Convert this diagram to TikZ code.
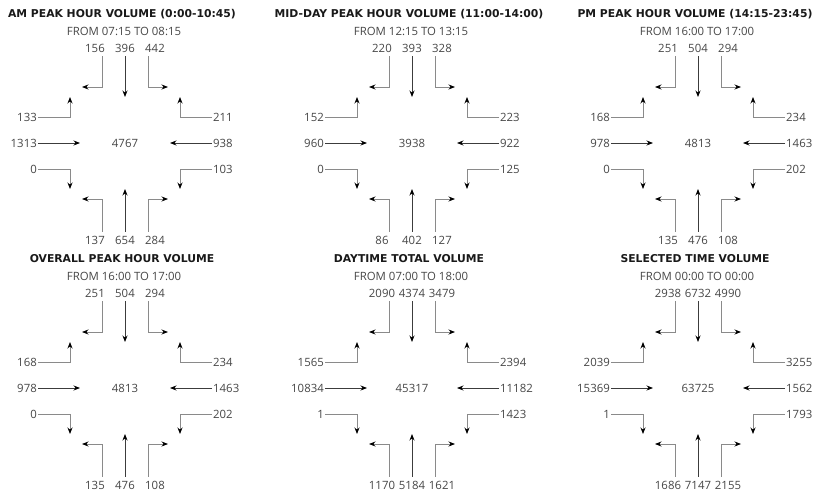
\documentclass[tikz,border=0pt]{standalone}
\usepackage{fontspec}
\setmainfont{Open Sans}
\newfontfamily\headfont{DejaVu Sans}
\definecolor{CountGrey}{HTML}{474747}
\definecolor{LaneGrey}{HTML}{8A8A8A}
\definecolor{ThruGrey}{HTML}{3C3C3C}
\usetikzlibrary{arrows.meta, positioning}

% #1 name, #2 centre, #3 title, #4 period, #5 total,
% #6 north L/T/R, #7 west U/T/D, #8 east U/T/D, #9 south L/T/R
\newcommand{\junction}[9]{%
  \begin{scope}[shift={(#2)}]
    \node[heading] (#1-title) at (-3,-129) {#3};
    \node[period] (#1-period) at (-1,-112) {#4};
    \node[count] (#1-total) at (0,0) {#5};
    \coordinate (#1-nlt) at (-43,-56); \coordinate (#1-ntt) at (0,-46); \coordinate (#1-nrt) at (43,-56);
    \coordinate (#1-wut) at (-55,-46); \coordinate (#1-wtt) at (-45,0); \coordinate (#1-wdt) at (-55,46);
    \coordinate (#1-eut) at (55,-46); \coordinate (#1-ett) at (45,0); \coordinate (#1-edt) at (55,46);
    \coordinate (#1-slt) at (-43,56); \coordinate (#1-stt) at (0,46); \coordinate (#1-srt) at (43,56);
    % north approach
    \foreach \l/\t/\r in {#6} {
      \node[count] (#1-nl) at (-30,-95) {\l};
      \node[count] (#1-nt) at (0,-95) {\t};
      \node[count] (#1-nr) at (30,-95) {\r};
      \draw[lane] ([xshift=7pt]#1-nl.south) |- (#1-nlt);
      \draw[thru] (#1-nt.south) -- (#1-ntt);
      \draw[lane] ([xshift=-7pt]#1-nr.south) |- (#1-nrt);
    }
    % west approach
    \foreach \u/\t/\d in {#7} {
      \node[count, anchor=east] (#1-wu) at (-87,-26) {\u};
      \node[count, anchor=east] (#1-wt) at (-87,0) {\t};
      \node[count, anchor=east] (#1-wd) at (-87,26) {\d};
      \draw[lane] (#1-wu.east) -| (#1-wut);
      \draw[thru] (#1-wt.east) -- (#1-wtt);
      \draw[lane] (#1-wd.east) -| (#1-wdt);
    }
    % east approach
    \foreach \u/\t/\d in {#8} {
      \node[count, anchor=west] (#1-eu) at (87,-26) {\u};
      \node[count, anchor=west] (#1-et) at (87,0) {\t};
      \node[count, anchor=west] (#1-ed) at (87,26) {\d};
      \draw[lane] (#1-eu.west) -| (#1-eut);
      \draw[thru] (#1-et.west) -- (#1-ett);
      \draw[lane] (#1-ed.west) -| (#1-edt);
    }
    % south approach
    \foreach \l/\t/\r in {#9} {
      \node[count] (#1-sl) at (-30,97) {\l};
      \node[count] (#1-st) at (0,97) {\t};
      \node[count] (#1-sr) at (30,97) {\r};
      \draw[lane] ([xshift=7pt]#1-sl.north) |- (#1-slt);
      \draw[thru] (#1-st.north) -- (#1-stt);
      \draw[lane] ([xshift=-7pt]#1-sr.north) |- (#1-srt);
    }
  \end{scope}%
}

\begin{document}
\begin{tikzpicture}[x=1pt, y=-1pt,
  count/.style={font=\fontsize{11.4}{13}\selectfont, text=CountGrey, text height=8pt, text depth=0pt, inner xsep=1pt, inner ysep=4pt},
  period/.style={count},
  heading/.style={font=\headfont\fontsize{10.8}{13}\selectfont\bfseries, text=black!90, inner sep=0pt},
  lane/.style={draw=LaneGrey, line width=0.8pt, -{Stealth[length=6.5pt, width=5pt, color=black]}},
  thru/.style={lane, draw=ThruGrey},
]
  \useasboundingbox (0,0) rectangle (814,493);
  \fill[white] (0,0) rectangle (814,493);

  \junction{am}{125,143}{AM PEAK HOUR VOLUME (0:00-10:45)}{FROM 07:15 TO 08:15}{4767}
    {156/396/442}{133/1313/0}{211/938/103}{137/654/284}
  \junction{md}{412,143}{MID-DAY PEAK HOUR VOLUME (11:00-14:00)}{FROM 12:15 TO 13:15}{3938}
    {220/393/328}{152/960/0}{223/922/125}{86/402/127}
  \junction{pm}{698,143}{PM PEAK HOUR VOLUME (14:15-23:45)}{FROM 16:00 TO 17:00}{4813}
    {251/504/294}{168/978/0}{234/1463/202}{135/476/108}
  \junction{op}{125,388}{OVERALL PEAK HOUR VOLUME}{FROM 16:00 TO 17:00}{4813}
    {251/504/294}{168/978/0}{234/1463/202}{135/476/108}
  \junction{dt}{412,388}{DAYTIME TOTAL VOLUME}{FROM 07:00 TO 18:00}{45317}
    {2090/4374/3479}{1565/10834/1}{2394/11182/1423}{1170/5184/1621}
  \junction{st}{698,388}{SELECTED TIME VOLUME}{FROM 00:00 TO 00:00}{63725}
    {2938/6732/4990}{2039/15369/1}{3255/1562/1793}{1686/7147/2155}
\end{tikzpicture}
\end{document}
